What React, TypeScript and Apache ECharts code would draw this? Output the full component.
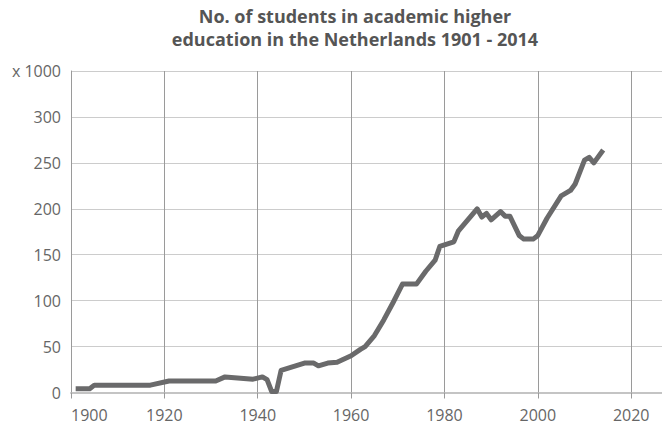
import React, { useEffect, useRef } from "react";
import * as echarts from "echarts";

const years = [
  1901, 1904, 1905, 1917, 1921, 1931, 1933, 1939, 1941, 1942, 1943, 1944, 1945,
  1950, 1952, 1953, 1955, 1957, 1960, 1962, 1963, 1965, 1967, 1969, 1971, 1974,
  1976, 1978, 1979, 1982, 1983, 1985, 1987, 1988, 1989, 1990, 1992, 1993, 1994,
  1996, 1997, 1999, 2000, 2002, 2005, 2007, 2008, 2010, 2011, 2012, 2014,
];
const students = [
  4, 4, 8, 8, 12.5, 12.5, 17, 14.5, 17, 14, 1, 1, 24,
  32, 32, 29, 32, 33, 40, 47, 50, 62, 79, 98, 118, 118,
  132, 144, 159, 164, 176, 188, 200, 191, 195, 188, 197, 192, 192,
  171, 167, 167, 171, 190, 214, 220, 227, 253, 256, 250, 264,
];
const yTicks = [0, 50, 100, 150, 200, 250, 300, 350];
const xTicks = [1900, 1920, 1940, 1960, 1980, 2000, 2020];
const titleLines = [
  "No. of students in academic higher",
  "education in the Netherlands 1901 - 2014",
];
const unitLabel = "x 1000";

export default function App() {
  const ref = useRef<HTMLDivElement>(null);
  useEffect(() => {
    if (!ref.current) return;
    const chart = echarts.init(ref.current, undefined, { renderer: "svg" });
    const font = "'Open Sans', 'Noto Sans', sans-serif";
    chart.setOption({
      animation: false,
      graphic: [
        {
          type: "text",
          x: 355,
          y: 4,
          style: {
            text: titleLines.join("\n"),
            fill: "#555555",
            fontFamily: font,
            fontWeight: "bold",
            fontSize: 18,
            lineHeight: 23,
            align: "center",
          },
        },
      ],
      grid: { left: 71, right: 0, top: 71, bottom: 38.5, containLabel: false },
      xAxis: {
        type: "value",
        min: 1900,
        max: 2026.6,
        interval: 20,
        axisLine: { show: true, lineStyle: { color: "#c4c4c4", width: 2 } },
        axisTick: { show: true, length: 6, lineStyle: { color: "#9a9a9a" } },
        splitLine: { show: true, lineStyle: { color: "#9a9a9a", width: 1 } },
        axisLabel: {
          color: "#666666",
          fontFamily: font,
          fontSize: 16,
          margin: 14,
          showMaxLabel: false,
          alignMinLabel: "left",
          formatter: (v: number) => (xTicks.includes(v) ? String(v) : ""),
        },
      },
      yAxis: {
        type: "value",
        min: 0,
        max: 350,
        interval: 50,
        axisLine: { show: true, lineStyle: { color: "#9a9a9a", width: 1 } },
        axisTick: { show: false },
        splitLine: { show: true, lineStyle: { color: "#cccccc", width: 1 } },
        axisLabel: {
          color: "#666666",
          fontFamily: font,
          fontSize: 16,
          margin: 10,
          padding: [0, 0, 8, 0],
          formatter: (v: number) =>
            v === 350 ? unitLabel : yTicks.includes(v) ? String(v) : "",
        },
      },
      series: [
        {
          type: "line",
          data: years.map((y, i) => [y, students[i]]),
          showSymbol: false,
          symbol: "none",
          lineStyle: { color: "#6a6a6b", width: 5, join: "round" },
          itemStyle: { color: "#6a6a6b" },
        },
      ],
    });
    return () => chart.dispose();
  }, []);
  return (
    <div
      ref={ref}
      style={{ position: "fixed", left: 0, top: 0, width: 662, height: 431, background: "#fff" }}
    />
  );
}
